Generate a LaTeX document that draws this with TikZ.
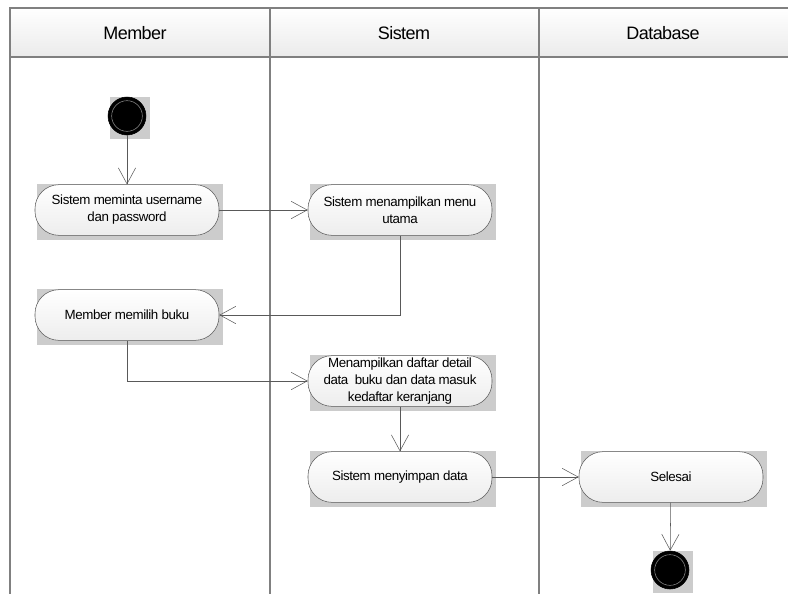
\documentclass[tikz,border=0pt]{standalone}
\usepackage{fontspec}
\setmainfont[LetterSpace=-3]{Liberation Sans}
\usepackage{tikz}
\usetikzlibrary{arrows.meta}
\usetikzlibrary{backgrounds}
\tikzstyle{activity}=[rectangle,rounded corners=18pt,draw=black!65,top color=white,bottom color=black!7,minimum width=138pt,minimum height=38pt,inner xsep=2pt,inner ysep=1pt,align=center,font=\fontsize{10}{12.8}\selectfont]
\tikzstyle{initial}=[circle,draw=black,fill=black,minimum size=28.5pt,inner sep=0pt,path picture={\draw[black!45] (path picture bounding box.center) circle (11.5pt);}]
\tikzstyle{lane}=[font=\fontsize{13.5}{15}\selectfont]
\tikzstyle{laneline}=[draw=black!50,line width=0.9pt]
\tikzstyle{shadowbox}=[fill=black!20]
\tikzstyle{flow}=[draw=black!65,-{Straight Barb[length=12pt,width=13pt]}]

\begin{document}
\begin{tikzpicture}[x=0.75pt,y=-0.75pt]
    \useasboundingbox (0,0) rectangle (788,594);
    \shade[top color=white,bottom color=black!8] (10,8) rectangle (788,57);
    \draw[laneline] (788,8) -- (10,8) -- (10,594);
    \draw[laneline] (10,57) -- (788,57);
    \draw[laneline] (270,8) -- (270,594);
    \draw[laneline] (539,8) -- (539,594);
    \node[lane] at (135,33) (member) {Member};
    \node[lane] at (404,33) (sistem) {Sistem};
    \node[lane] at (663,33) (database) {Database};
    \node[initial] at (127,116) (start) {};
    \node[activity] at (127,210) (login) {Sistem meminta username\\dan password};
    \node[activity] at (400,210) (menu) {Sistem menampilkan menu\\utama};
    \node[activity] at (127,315) (pilih) {Member memilih buku};
    \node[activity] at (400,381) (detail) {Menampilkan daftar detail\\data\ \ buku dan data masuk\\kedaftar keranjang};
    \node[activity] at (400,477) (simpan) {Sistem menyimpan data};
    \node[activity] at (671,477) (selesai) {Selesai};
    \node[initial] at (670,570) (end) {};
    \begin{scope}[on background layer]
    \foreach \n in {start,login,menu,pilih,detail,simpan,selesai,end}
        \fill[shadowbox] ([xshift=1.5pt]\n.west |- \n.north) rectangle ([xshift=3pt,yshift=-3pt]\n.east |- \n.south);
    \end{scope}
    \draw[flow] (start) to (login);
    \draw[flow] (login) to (menu);
    \draw[flow] (menu.south) |- (pilih.east);
    \draw[flow] (pilih.south) |- (detail.west);
    \draw[flow] (detail) to (simpan);
    \draw[flow] (simpan) to (selesai);
    \draw[flow] (selesai) to (end);
\end{tikzpicture}
\end{document}
